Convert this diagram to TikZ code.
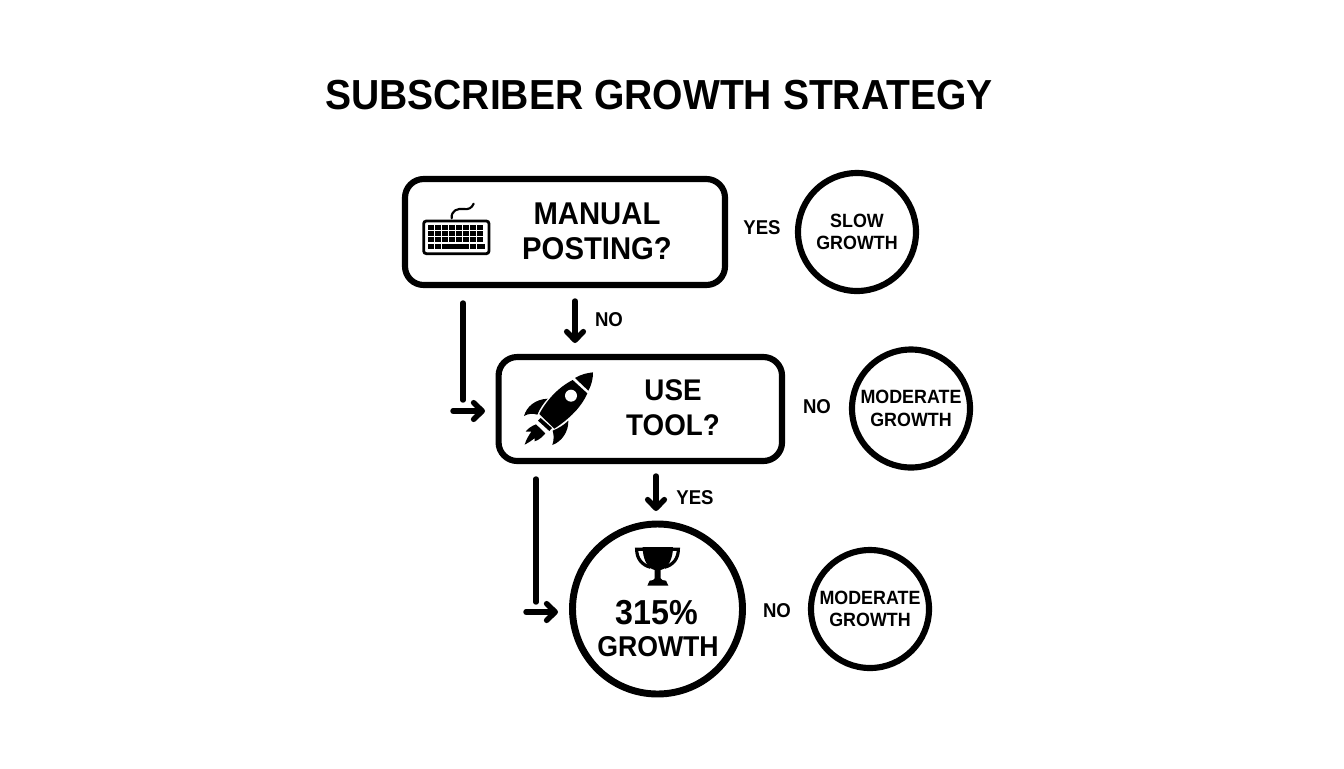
\documentclass[tikz,border=0pt]{standalone}
\usepackage{fontspec}
\setmainfont[FakeStretch=0.93]{Liberation Sans}
\usetikzlibrary{arrows.meta}
\newcommand{\fs}[2]{\fontsize{#1}{#2}\selectfont\bfseries}
\tikzset{
  x=0.75pt,y=-0.75pt,
  ink/.style={draw=black,line width=4.6pt},
  decision/.style={ink,rounded corners=14pt,inner sep=0pt,fill=white},
  outcome/.style={ink,circle,inner sep=0pt,minimum size=88.5pt,align=center,font=\fs{14.4}{17}},
  boxtext/.style={align=center,font=\fs{23.6}{26.25},inner sep=0pt},
  edgelabel/.style={font=\fs{15}{17},inner sep=0pt},
  conn/.style={line width=4.1pt,line cap=round},
  flow/.style={conn,-{Straight Barb[length=6.5pt,width=12.5pt,line width=4.1pt,round]}},
}
\begin{document}
\begin{tikzpicture}
\useasboundingbox (0,0) rectangle (1344,768);
\fill[white] (0,0) rectangle (1344,768);
\node[font=\fs{31.5}{36},inner sep=0pt] (title) at (659,95) {SUBSCRIBER GROWTH STRATEGY};

% decision boxes
\node[decision,minimum width=240pt,minimum height=79.5pt] (manual) at (565,232) {};
\node[boxtext] (manualt) at (597,231) {MANUAL\\POSTING?};
\node[decision,minimum width=212.6pt,minimum height=78pt] (tool) at (640.3,409) {};
\node[boxtext,font=\fs{22.4}{26.25}] (toolt) at (673,408) {USE\\TOOL?};

% outcome circles
\node[outcome] (slow) at (857,232) {SLOW\\GROWTH};
\node[outcome] (mod1) at (911,408.5) {MODERATE\\GROWTH};
\node[outcome] (mod2) at (870,609) {MODERATE\\GROWTH};
\node[ink,circle,inner sep=0pt,line width=5.2pt,minimum size=127.5pt] (big) at (657.5,609) {};
\node[font=\fs{26}{28},inner sep=0pt] (pct) at (657,613) {315\%};
\node[font=\fs{21.5}{24},inner sep=0pt] (gr) at (658,647) {GROWTH};

% labels
\node[edgelabel] (l1) at (762,228) {YES};
\node[edgelabel] (l2) at (609,320) {NO};
\node[edgelabel] (l3) at (817,407) {NO};
\node[edgelabel] (l4) at (695,498) {YES};
\node[edgelabel] (l5) at (777,611) {NO};

% connectors
\coordinate (a1) at (575,301); \coordinate (a2) at (575,343);
\coordinate (b1) at (656,476); \coordinate (b2) at (656,511);
\coordinate (c1) at (463,303); \coordinate (c2) at (463,400);
\coordinate (c3) at (453,411); \coordinate (c4) at (485,411);
\coordinate (d1) at (536,479); \coordinate (d2) at (536,602);
\coordinate (e1) at (526,612); \coordinate (e2) at (558,612);
\draw[flow] (a1) -- (a2);
\draw[flow] (b1) -- (b2);
\draw[conn] (c1) -- (c2);
\draw[flow] (c3) -- (c4);
\draw[conn] (d1) -- (d2);
\draw[flow] (e1) -- (e2);

% keyboard icon (zoom coordinates)
\begin{scope}[shift={(400,165)},scale=1/3]
  \draw[line width=2.1pt,rounded corners=2pt] (71,168) rectangle (267,266);
  \draw[line width=1.6pt,line cap=round] (155,160) .. controls (153,135) and (175,130) .. (190,132) .. controls (205,134) and (215,130) .. (221,116);
  \foreach \row/\y in {0/181,1/199,2/217}{
    \foreach \k in {0,...,7}{
      \fill ({83+\k*21.2},\y) rectangle +(18,14.5);
    }
  }
  \fill (83,237) rectangle +(18,15);
  \fill (104,237) rectangle +(18,15);
  \fill (125,237) rectangle +(82,15);
  \fill (210,237) rectangle +(18,15);
  \fill (231,237) rectangle +(24,15);
\end{scope}

% rocket icon
\begin{scope}[shift={(440,350)},scale=1/3]
  \fill (405,84) .. controls (425,72) and (442,69) .. (459,67) .. controls (459,85) and (455,105) .. (445,122) -- cycle;
  \fill (398,90) -- (442,130) .. controls (425,170) and (390,205) .. (343,236) -- (298,192) .. controls (320,150) and (355,112) .. (398,90) -- cycle;
  \fill[white] (393,137) circle (18);
  \fill (294,212) -- (302,204) -- (336,234) -- (328,243) -- cycle;
  \fill (323,146) .. controls (285,148) and (260,170) .. (252,198) .. controls (265,190) and (280,190) .. (292,194) .. controls (298,178) and (310,160) .. (323,146) -- cycle;
  \fill (385,212) .. controls (386,245) and (365,275) .. (337,285) .. controls (342,270) and (342,255) .. (338,242) .. controls (355,235) and (372,225) .. (385,212) -- cycle;
  \fill (288,223) .. controls (275,228) and (263,236) .. (257,245) -- (274,245) .. controls (265,258) and (258,270) .. (254,284) .. controls (265,278) and (275,272) .. (284,264) -- (284,274) .. controls (297,270) and (308,260) .. (316,250) -- cycle;
\end{scope}

% trophy icon
\begin{scope}[shift={(510,470)},scale=1/3]
  \draw[line width=2.4pt] (400,238) -- (380,238) .. controls (380,265) and (395,285) .. (422,292);
  \draw[line width=2.4pt] (485,238) -- (505,238) .. controls (505,265) and (490,285) .. (463,292);
  \fill (398,231) -- (489,231) .. controls (489,265) and (475,295) .. (452,300) -- (452,325) .. controls (452,330) and (462,332) .. (468,332) -- (475,347) -- (412,347) -- (419,332) .. controls (425,332) and (434,330) .. (434,325) -- (434,300) .. controls (411,295) and (398,265) .. (398,231) -- cycle;
\end{scope}
\end{tikzpicture}
\end{document}
